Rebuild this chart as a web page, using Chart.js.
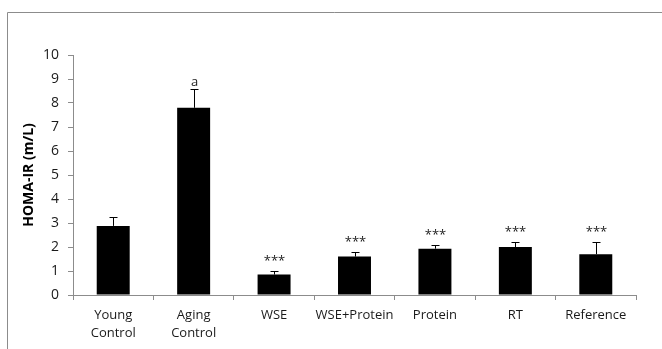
<!DOCTYPE html>
<html>
<head>
    <title>HOMA-IR bar chart</title>
    <script src="https://cdn.jsdelivr.net/npm/chart.js"></script>
    <style>
        body { margin: 0; background: #fff; }
    </style>
</head>
<body>

<canvas id="homa_chart" width="662" height="349"></canvas>

<script>
const groups = [['Young', 'Control'], ['Aging', 'Control'], 'WSE', 'WSE+Protein', 'Protein', 'RT', 'Reference'];
const homaValues = [2.88, 7.8, 0.85, 1.6, 1.93, 2.0, 1.7];
const homaErrors = [0.35, 0.78, 0.13, 0.2, 0.16, 0.2, 0.5];
const marks = ['', 'a', '***', '***', '***', '***', '***'];
const yTicks = [0, 1, 2, 3, 4, 5, 6, 7, 8, 9, 10];

const FONT = '"Open Sans", "Liberation Sans", sans-serif';

// white background + the grey frame round the chart (top and left only)
const framePlugin = {
    id: 'frame',
    beforeDraw(chart) {
        const ctx = chart.ctx;
        ctx.save();
        ctx.fillStyle = '#fff';
        ctx.fillRect(0, 0, chart.width, chart.height);
        ctx.strokeStyle = '#8c8c8c';
        ctx.lineWidth = 1;
        ctx.beginPath();
        ctx.moveTo(7.5, chart.height);
        ctx.lineTo(7.5, 12.5);
        ctx.lineTo(chart.width, 12.5);
        ctx.stroke();
        ctx.restore();
    }
};

// error bars + significance marks drawn on top of the bars
const errorBarPlugin = {
    id: 'errorBars',
    afterDatasetsDraw(chart) {
        const ctx = chart.ctx;
        const x = chart.scales.x;
        const y = chart.scales.y;
        ctx.save();
        ctx.strokeStyle = '#000';
        ctx.lineWidth = 1;
        homaValues.forEach(function(v, i) {
            const cx = Math.round(x.getPixelForValue(i)) + 0.5;
            const top = y.getPixelForValue(v);
            const errTop = Math.round(y.getPixelForValue(v + homaErrors[i])) + 0.5;
            ctx.beginPath();
            ctx.moveTo(cx, top);
            ctx.lineTo(cx, errTop);
            ctx.moveTo(cx - 4, errTop);
            ctx.lineTo(cx + 4, errTop);
            ctx.stroke();
            if (marks[i]) {
                ctx.fillStyle = '#222';
                ctx.font = '13px ' + FONT;
                ctx.textAlign = 'center';
                ctx.textBaseline = 'alphabetic';
                ctx.fillText(marks[i], cx, errTop - (marks[i] === 'a' ? 4 : 7));
            }
        });
        ctx.restore();
    }
};

document.addEventListener("DOMContentLoaded", function() {
    const ctx = document.getElementById('homa_chart').getContext('2d');

    new Chart(ctx, {
        type: 'bar',
        data: {
            labels: groups,
            datasets: [{
                label: 'HOMA-IR',
                data: homaValues,
                backgroundColor: '#000',
                borderWidth: 0,
                barPercentage: 0.41,
                categoryPercentage: 1.0
            }]
        },
        plugins: [framePlugin, errorBarPlugin],
        options: {
            responsive: false,
            animation: false,
            layout: {
                padding: { top: 55, right: 26, left: 0, bottom: 0 }
            },
            scales: {
                x: {
                    grid: {
                        display: true,
                        drawOnChartArea: false,
                        offset: true,
                        tickLength: 5,
                        color: '#8c8c8c'
                    },
                    border: { color: '#8c8c8c' },
                    ticks: {
                        color: '#1a1a1a',
                        font: { family: FONT, size: 13, lineHeight: 1.4 },
                        maxRotation: 0,
                        autoSkip: false,
                        padding: 6
                    },
                    afterFit: function(scale) { scale.height = 54; }
                },
                y: {
                    min: 0,
                    max: 10,
                    afterBuildTicks: function(scale) {
                        scale.ticks = yTicks.map(function(v) { return { value: v }; });
                    },
                    grid: {
                        display: true,
                        drawOnChartArea: false,
                        tickLength: 5,
                        color: '#8c8c8c'
                    },
                    border: { color: '#8c8c8c' },
                    ticks: {
                        color: '#1a1a1a',
                        font: { family: FONT, size: 14 },
                        padding: 9
                    },
                    title: {
                        display: true,
                        text: 'HOMA-IR (m/L)',
                        color: '#000',
                        font: { family: FONT, size: 14, weight: 'bold' },
                        padding: { top: 21, bottom: 0 }
                    },
                    afterFit: function(scale) { scale.width = 73; }
                }
            },
            plugins: {
                legend: { display: false },
                tooltip: { enabled: false }
            }
        }
    });
});
</script>

</body>
</html>
